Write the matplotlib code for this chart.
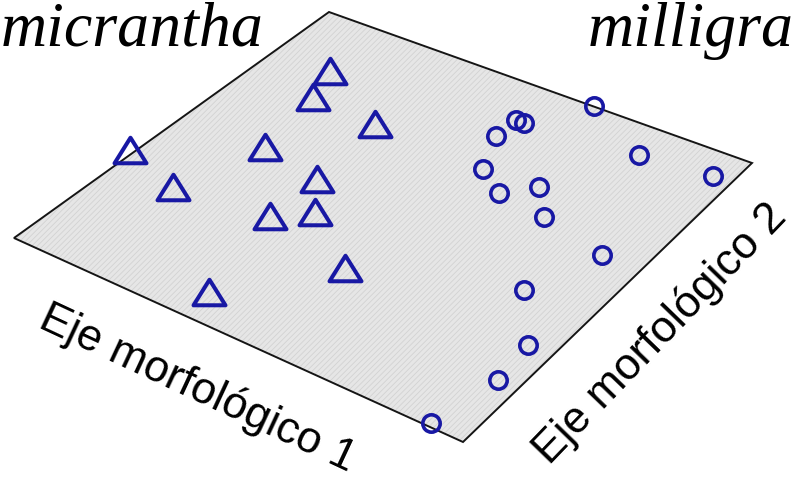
import numpy as np
import matplotlib
matplotlib.use("Agg")
import matplotlib.pyplot as plt
from matplotlib.patches import Polygon
from matplotlib.path import Path

# scores on the two morphological axes (0..1 across the plane)
micrantha_eje1 = [0.14, 0.17, 0.33, -0.01, 0.20, 0.14, 0.35, 0.35, 0.41, 0.56, 0.40]
micrantha_eje2 = [0.81, 0.71, 0.70, 0.35, 0.51, 0.30, 0.48, 0.33, 0.39, 0.28, 0.08]

milligrana_eje1 = [0.65, 0.55, 0.57, 0.55, 0.81, 0.59, 0.96, 0.66, 0.71, 0.77, 0.92, 0.86, 0.95, 0.96, 0.93]
milligrana_eje2 = [1.00, 0.87, 0.87, 0.80, 0.90, 0.69, 0.92, 0.64, 0.70, 0.62, 0.58, 0.41, 0.28, 0.17, 0.01]

# where the corners of the plane land on the page (pixels), for the perspective view
plane_px = np.array([[14, 238], [463, 442], [329, 12], [752, 163]], float)
unit = np.array([[0, 0], [1, 0], [0, 1], [1, 1]], float)


def homography(s, d):
    A = []
    for (x, y), (X, Y) in zip(s, d):
        A.append([x, y, 1, 0, 0, 0, -X * x, -X * y, -X])
        A.append([0, 0, 0, x, y, 1, -Y * x, -Y * y, -Y])
    _, _, vt = np.linalg.svd(np.array(A))
    return vt[-1].reshape(3, 3)


H = homography(unit, plane_px)


def project(u, v):
    pts = np.vstack([u, v, np.ones(len(u))])
    q = H @ pts
    return q[0] / q[2], q[1] / q[2]


fig = plt.figure(figsize=(7.94, 4.84), dpi=100)
ax = fig.add_axes([0, 0, 1, 1])
ax.set_xlim(0, 794)
ax.set_ylim(484, 0)
ax.axis("off")

# the plane itself
px, py = project([0, 1, 1, 0], [0, 0, 1, 1])
corners = np.column_stack([px, py])
plt.rcParams["hatch.linewidth"] = 0.6
ax.add_patch(Polygon(corners, closed=True, facecolor="#e6e6e6", edgecolor="#d2d2d2",
                     hatch="//////", linewidth=0, zorder=1))
ax.add_patch(Polygon(corners, closed=True, facecolor="none", edgecolor="#151515",
                     linewidth=1.4, zorder=2))

blue = "#1818a4"
tri = Path([(-1, -0.8), (1, -0.8), (0, 0.8), (-1, -0.8)],
           [Path.MOVETO, Path.LINETO, Path.LINETO, Path.CLOSEPOLY])

x1, y1 = project(micrantha_eje1, micrantha_eje2)
ax.plot(x1, y1, linestyle="none", marker=tri, markersize=23, markerfacecolor="none",
        markeredgecolor=blue, markeredgewidth=2.9, zorder=3)

x2, y2 = project(milligrana_eje1, milligrana_eje2)
ax.plot(x2, y2, linestyle="none", marker="o", markersize=12.5, markerfacecolor="none",
        markeredgecolor=blue, markeredgewidth=2.6, zorder=3)

ax.text(1, 46, "micrantha", family="Liberation Serif", style="italic", fontsize=46,
        ha="left", va="baseline")
ax.text(794, 46, "milligra", family="Liberation Serif", style="italic", fontsize=46,
        ha="right", va="baseline")

ax.text(198, 388, "Eje morfológico 1", family="Liberation Sans", fontsize=32,
        rotation=-25, rotation_mode="anchor", ha="center", va="center")
ax.text(660, 334, "Eje morfológico 2", family="Liberation Sans", fontsize=32,
        rotation=46, rotation_mode="anchor", ha="center", va="center")

fig.savefig("out.png", dpi=100)
